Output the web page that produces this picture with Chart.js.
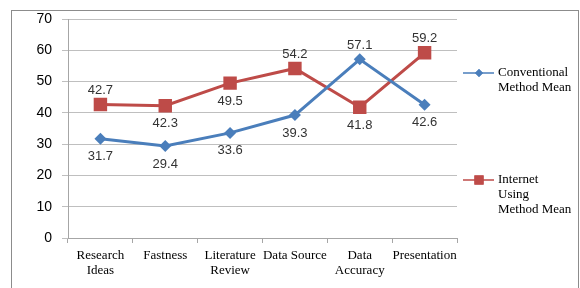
<!DOCTYPE html>
<html>
<head>
<meta charset="utf-8">
<script src="https://cdn.jsdelivr.net/npm/chart.js@4"></script>
<style>
  body { margin: 0; background: #fff; }
  canvas { display: block; }
</style>
</head>
<body>
<canvas id="meanChart" width="580" height="288"></canvas>
<script>
var categories = [
    ["Research", "Ideas"], "Fastness", ["Literature", "Review"],
    "Data Source", ["Data", "Accuracy"], "Presentation"
];
var conventionalMean = [31.7, 29.4, 33.6, 39.3, 57.1, 42.6];
var internetMean = [42.7, 42.3, 49.5, 54.2, 41.8, 59.2];
var yTicks = [0, 10, 20, 30, 40, 50, 60, 70];

// where each value label sits relative to its point
var conventionalLabelPos = ["below", "below", "below", "below", "above", "below"];
var internetLabelPos = ["above", "below", "below", "above", "below", "above"];

var blue = "#4a7ebb";
var red = "#be4b48";

// frame round the chart, value labels and the side legend
var decorations = {
    id: "decorations",
    beforeDraw: function (chart) {
        var ctx = chart.ctx;
        ctx.save();
        ctx.strokeStyle = "#8c8c8c";
        ctx.lineWidth = 1;
        ctx.strokeRect(11.5, 10.5, 567, 300);
        ctx.restore();
    },
    afterDatasetsDraw: function (chart) {
        var ctx = chart.ctx;
        var positions = [conventionalLabelPos, internetLabelPos];
        ctx.save();
        ctx.font = "13px 'Liberation Sans', Arial, sans-serif";
        ctx.fillStyle = "#333";
        ctx.textAlign = "center";
        ctx.textBaseline = "middle";
        chart.data.datasets.forEach(function (ds, i) {
            chart.getDatasetMeta(i).data.forEach(function (pt, j) {
                var dy = positions[i][j] === "above" ? -14 : 18;
                ctx.fillText(ds.data[j].toFixed(1), pt.x, pt.y + dy);
            });
        });

        // legend
        var items = [
            {y: 73, color: blue, style: "rectRot", r: 4, lines: ["Conventional", "Method Mean"]},
            {y: 180, color: red, style: "rect", r: 6.5, lines: ["Internet", "Using", "Method Mean"]}
        ];
        ctx.font = "13px 'Liberation Serif', 'Times New Roman', serif";
        ctx.textAlign = "left";
        items.forEach(function (it) {
            ctx.strokeStyle = it.color;
            ctx.lineWidth = 1.5;
            ctx.beginPath();
            ctx.moveTo(463, it.y);
            ctx.lineTo(494, it.y);
            ctx.stroke();
            ctx.fillStyle = it.color;
            Chart.helpers.drawPoint(ctx, {pointStyle: it.style, radius: it.r, borderWidth: 0}, 479, it.y);
            ctx.fill();
            ctx.fillStyle = "#000";
            it.lines.forEach(function (t, k) {
                ctx.fillText(t, 498, it.y + k * 15);
            });
        });
        ctx.restore();
    }
};

var ctx = document.getElementById("meanChart").getContext("2d");
new Chart(ctx, {
    type: "line",
    data: {
        labels: categories,
        datasets: [
            {
                label: "Conventional Method Mean",
                data: conventionalMean,
                borderColor: blue,
                backgroundColor: blue,
                borderWidth: 3,
                pointStyle: "rectRot",
                pointRadius: 6,
                pointBorderWidth: 0,
                tension: 0
            },
            {
                label: "Internet Using Method Mean",
                data: internetMean,
                borderColor: red,
                backgroundColor: red,
                borderWidth: 3,
                pointStyle: "rect",
                pointRadius: 9.5,
                pointBorderWidth: 0,
                tension: 0
            }
        ]
    },
    options: {
        responsive: false,
        animation: false,
        layout: {padding: {left: 11, right: 123, top: 19, bottom: 0}},
        plugins: {
            legend: {display: false},
            tooltip: {enabled: false}
        },
        scales: {
            x: {
                offset: true,
                grid: {
                    offset: true,
                    drawOnChartArea: false,
                    drawTicks: true,
                    tickLength: 5,
                    color: "#a6a6a6"
                },
                border: {color: "#a6a6a6"},
                ticks: {
                    color: "#000",
                    padding: 5,
                    maxRotation: 0,
                    autoSkip: false,
                    font: {family: "'Liberation Serif', 'Times New Roman', serif", size: 13, lineHeight: 1.15}
                },
                afterFit: function (scale) { scale.height = 50; }
            },
            y: {
                min: 0,
                max: 70,
                afterBuildTicks: function (scale) {
                    scale.ticks = yTicks.map(function (v) { return {value: v}; });
                },
                grid: {color: "#bfbfbf", tickLength: 6},
                border: {color: "#a6a6a6"},
                ticks: {
                    color: "#000",
                    padding: 10,
                    font: {family: "'Liberation Sans', Arial, sans-serif", size: 14}
                },
                afterFit: function (scale) { scale.width = 57; }
            }
        }
    },
    plugins: [decorations]
});
</script>
</body>
</html>
